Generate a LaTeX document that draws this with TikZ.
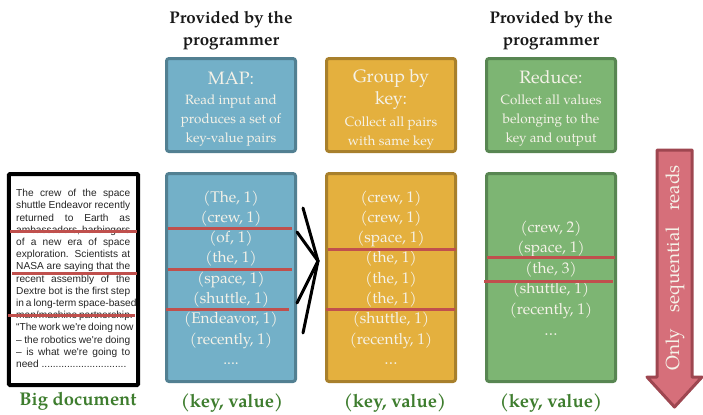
\documentclass[tikz,border=0pt]{standalone}
\usepackage{fontspec}
\setmainfont{texgyrepagella}[Extension=.otf,UprightFont=*-regular,BoldFont=*-bold,ItalicFont=*-italic,BoldItalicFont=*-bolditalic]
\newfontfamily\docfont{Liberation Sans}
\definecolor{mapfill}{RGB}{115,176,200}
\definecolor{mapdraw}{RGB}{82,128,146}
\definecolor{grpfill}{RGB}{228,176,62}
\definecolor{grpdraw}{RGB}{168,128,44}
\definecolor{redfill}{RGB}{125,181,115}
\definecolor{reddraw}{RGB}{88,134,82}
\definecolor{divider}{RGB}{192,80,77}
\definecolor{arrowfill}{RGB}{214,111,122}
\definecolor{arrowdraw}{RGB}{158,70,80}
\definecolor{boxtext}{RGB}{245,242,232}
\definecolor{labelgreen}{RGB}{62,125,46}
\begin{document}
\begin{tikzpicture}[x=1bp,y=-1bp,
  pbox/.style={rounded corners=2.5bp, line width=3bp, inner sep=0pt, minimum width=129bp},
  headbox/.style={pbox, minimum height=93bp},
  bodybox/.style={pbox, minimum height=208bp},
  hdr/.style={font=\fontsize{17}{20}\selectfont\bfseries, text=black!90, inner sep=0pt, anchor=base},
  ttl/.style={font=\fontsize{18}{22}\selectfont, text=boxtext, inner sep=0pt, anchor=base},
  subt/.style={font=\fontsize{13.5}{19.5}\selectfont, text=boxtext, inner sep=0pt, anchor=base},
  item/.style={font=\fontsize{15.5}{20}\selectfont, text=boxtext, inner sep=0pt, anchor=base},
  glabel/.style={font=\fontsize{18.5}{22}\selectfont\bfseries, text=labelgreen, inner sep=0pt, anchor=base},
  docline/.style={anchor=base west, inner sep=0pt, font=\docfont\fontsize{10.2}{12}\selectfont, text=black!85},
  divline/.style={draw=divider, line width=3bp},
  chev/.style={draw=black, line width=3bp, line cap=round}]
\useasboundingbox (0,0) rectangle (703,414);

% headers
\node[hdr] (p1a) at (231,23) {Provided by the};
\node[hdr] (p1b) at (231,45) {programmer};
\node[hdr] (p2a) at (551,23) {Provided by the};
\node[hdr] (p2b) at (551,45) {programmer};

% header boxes
\node[headbox, draw=mapdraw, fill=mapfill] (maphead) at (231,105) {};
\node[headbox, draw=grpdraw, fill=grpfill] (grphead) at (391,105) {};
\node[headbox, draw=reddraw, fill=redfill] (redhead) at (551,105) {};

\node[ttl] (mapT) at (231,84) {MAP:};
\node[subt] (mapS1) at (231,104) {Read input and};
\node[subt] (mapS2) at (231,123) {produces a set of};
\node[subt] (mapS3) at (231,142) {key-value pairs};

\node[ttl] (grpT1) at (391,82) {Group by};
\node[ttl] (grpT2) at (391,104) {key:};
\node[subt] (grpS1) at (391,126) {Collect all pairs};
\node[subt] (grpS2) at (391,145) {with same key};

\node[ttl] (redT) at (551,83) {Reduce:};
\node[subt] (redS1) at (551,104) {Collect all values};
\node[subt] (redS2) at (551,123) {belonging to the};
\node[subt] (redS3) at (551,142) {key and output};

% body boxes
\node[bodybox, draw=mapdraw, fill=mapfill] (mapbody) at (231,277.5) {};
\node[bodybox, draw=grpdraw, fill=grpfill] (grpbody) at (391,277.5) {};
\node[bodybox, draw=reddraw, fill=redfill] (redbody) at (551,277.5) {};

\foreach \t [count=\i] in {{(The, 1)},{(crew, 1)},{(of, 1)},{(the, 1)},{(space, 1)},{(shuttle, 1)},{(Endeavor, 1)},{(recently, 1)}}
  \node[item] (m\i) at (231,{202+(\i-1)*20.3}) {\t};
\node[item] (m9) at (231,{202+8*20.3}) {....};
\foreach \t [count=\i] in {{(crew, 1)},{(crew, 1)},{(space, 1)},{(the, 1)},{(the, 1)},{(the, 1)},{(shuttle, 1)},{(recently, 1)}}
  \node[item] (g\i) at (391,{202+(\i-1)*20.3}) {\t};
\node[item] (g9) at (391,{202+8*20.3}) {\ldots};
\foreach \t [count=\i] in {{(crew, 2)},{(space, 1)},{(the, 3)},{(shuttle, 1)},{(recently, 1)}}
  \node[item] (r\i) at (551,{232+(\i-1)*20.6}) {\t};
\node[item] (r6) at (551,{232+5*20.6}) {\ldots};

% document
\node[draw=black, fill=white, line width=4bp, rounded corners=1bp, minimum width=129bp, minimum height=211bp, inner sep=0pt] (doc) at (73.5,279.5) {};
\foreach \t [count=\i] in {{The crew of the space},{shuttle Endeavor recently},{returned to Earth as},{ambassadors, harbingers},{of a new era of space},{exploration. Scientists at},{NASA are saying that the},{recent assembly of the},{Dextre bot is the first step},{in a long-term space-based},{man/machine partnership.},{“The work we're doing now},{– the robotics we're doing},{– is what we're going to}}
  \node[docline] (d\i) at (16,{196.6+(\i-1)*12.2}) {\makebox[114bp][s]{\t}};
\node[docline] (d15) at (16,{196.6+14*12.2}) {need ..............................};

% dividers
\draw[divline] (10,231) -- (137,231);
\draw[divline] (12,273) -- (137,273);
\draw[divline] (8,315) -- (135,315);
\draw[divline] (168,228) -- (292,228);
\draw[divline] (168,269) -- (292,269);
\draw[divline] (166,309) -- (289,309);
\draw[divline] (328,249) -- (456,249);
\draw[divline] (326,309) -- (455,309);
\draw[divline] (487,257) -- (615,257);
\draw[divline] (484,281) -- (613,281);

% chevron
\coordinate (chtip) at (318,261);
\draw[chev] (303,208) -- (chtip) -- (303,333);
\draw[chev] (297,232) -- (chtip) -- (297,303);

% labels
\node[glabel] (bigdoc) at (78,405) {Big document};
\node[glabel] (kv1) at (232,407) {(key, value)};
\node[glabel] (kv2) at (395,407) {(key, value)};
\node[glabel] (kv3) at (551,407) {(key, value)};

% arrow
\draw[draw=arrowdraw, fill=arrowfill, line width=3bp, line join=round]
  (657,150) -- (692,150) -- (692,377) -- (702,377) -- (674.5,407) -- (647,377) -- (657,377) -- cycle;
\node[rotate=90, inner sep=0pt, font=\fontsize{19}{20}\selectfont, text=boxtext] (seq) at (675,267.5) {\makebox[205bp][s]{Only sequential reads}};
\end{tikzpicture}
\end{document}
